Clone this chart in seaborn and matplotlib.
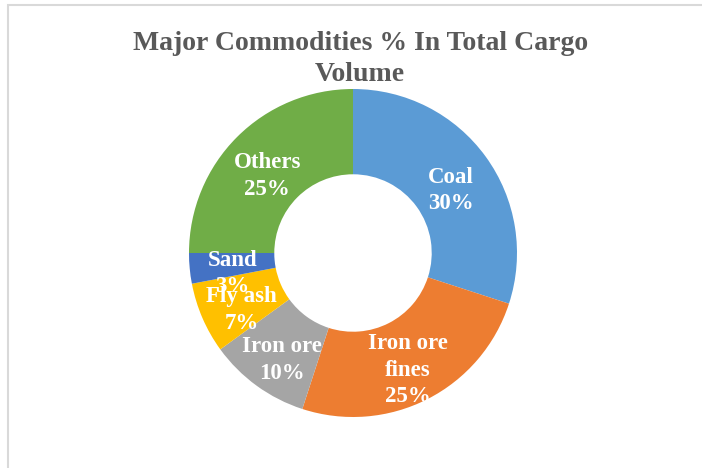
import matplotlib
matplotlib.use('Agg')
import matplotlib.pyplot as plt
import seaborn as sns
from matplotlib.patches import Rectangle

sns.set_theme(style='white')
plt.rcParams['font.family'] = ['Liberation Serif', 'DejaVu Serif']

# Data
commodities = ['Coal', 'Iron ore\nfines', 'Iron ore', 'Fly ash', 'Sand', 'Others']
shares = [30, 25, 10, 7, 3, 25]
colors = ['#5B9BD5', '#ED7D31', '#A5A5A5', '#FFC000', '#4472C4', '#70AD47']

labels = [f'{c}\n{s}%' for c, s in zip(commodities, shares)]

fig = plt.figure(figsize=(7.02, 4.68), dpi=100)
fig.patches.append(Rectangle((8 / 702, -0.01), 1.2, 1 - 5 / 468 + 0.01,
                             transform=fig.transFigure, fill=False,
                             edgecolor='#D9D9D9', linewidth=1.5))

# donut centre ~ (353, 253) px, outer radius ~ 164 px
ax = fig.add_axes([(353 - 164) / 702, (468 - 253 - 164) / 468, 328 / 702, 328 / 468])
wedges, texts = ax.pie(shares, labels=labels, colors=colors, startangle=90,
                       counterclock=False, radius=1, labeldistance=0.74,
                       wedgeprops=dict(width=0.52, linewidth=0),
                       textprops=dict(color='white', fontsize=16.5, fontweight='bold',
                                      linespacing=1.35))
for t in texts:
    t.set_ha('center')
    t.set_va('center')
    x, y = t.get_position()
    t.set_position((x, y - 0.055))
ax.set_xlim(-1, 1)
ax.set_ylim(-1, 1)
ax.set_aspect('equal')
ax.axis('off')

fig.text(0.513, 1 - 59 / 468, 'Major Commodities % In Total Cargo\nVolume', ha='center', va='center',
         fontsize=20, fontweight='bold', color='#595959', linespacing=1.3)

fig.savefig('out.png', dpi=100)
